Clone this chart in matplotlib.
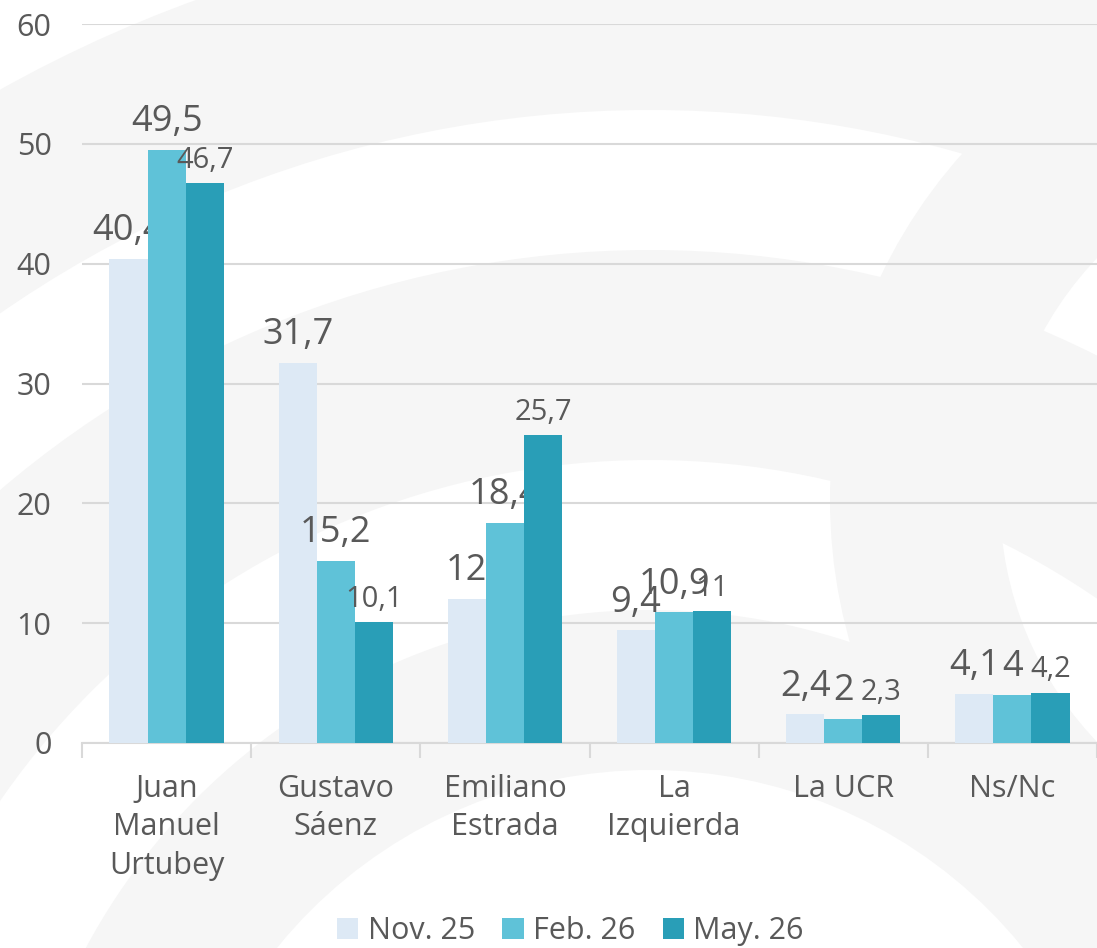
import matplotlib.pyplot as plt
from matplotlib.patches import Wedge

plt.rcParams['font.family'] = ['Open Sans', 'DejaVu Sans']

# datos
categorias = ["Juan\nManuel\nUrtubey", "Gustavo\nSáenz", "Emiliano\nEstrada",
              "La\nIzquierda", "La UCR", "Ns/Nc"]
series = ["Nov. 25", "Feb. 26", "May. 26"]
nov25 = [40.4, 31.7, 12, 9.4, 2.4, 4.1]
feb26 = [49.5, 15.2, 18.4, 10.9, 2, 4]
may26 = [46.7, 10.1, 25.7, 11, 2.3, 4.2]
yticks = [0, 10, 20, 30, 40, 50, 60]

colores = ["#DDE9F5", "#5FC2D8", "#299EB7"]
gris_txt = "#595959"
gris_lin = "#D9D9D9"

fig = plt.figure(figsize=(10.97, 9.48), dpi=100)

# marca de agua de fondo (arcos grises claros)
fondo = fig.add_axes([0, 0, 1, 1], zorder=-10)
fondo.set_xlim(0, 1097)
fondo.set_ylim(948, 0)
fondo.axis("off")
fondo.add_patch(Wedge((650, 1250), 1330, 180, 360, width=190, color="#F6F6F6", lw=0))
fondo.add_patch(Wedge((650, 1250), 1000, 180, 360, width=210, color="#F6F6F6", lw=0))
fondo.add_patch(Wedge((1350, 500), 520, 90, 270, width=170, color="#F6F6F6", lw=0))
fondo.add_patch(Wedge((650, 1250), 640, 180, 360, width=160, color="#F6F6F6", lw=0))

ax = fig.add_axes([82 / 1097, 205 / 948, 1 - 82 / 1097, 719 / 948])
ax.patch.set_alpha(0)

x = list(range(len(categorias)))
w = 0.225
datos = [nov25, feb26, may26]
for i, (nombre, vals) in enumerate(zip(series, datos)):
    pos = [xi + (i - 1) * w for xi in x]
    barras = ax.bar(pos, vals, width=w, color=colores[i], label=nombre, zorder=3)
    etiquetas = [f"{v:g}".replace(".", ",") for v in vals]
    ax.bar_label(barras, labels=etiquetas, padding=6 if i == 2 else 7, color=gris_txt,
                 fontsize=21 if i == 2 else 26)

ax.set_ylim(0, 60)
ax.set_xlim(-0.5, len(categorias) - 0.5)
ax.set_yticks(yticks)
ax.grid(axis="y", color=gris_lin, lw=1.5, zorder=0)
ax.tick_params(axis="y", length=0, labelsize=22, labelcolor=gris_txt, pad=22)

ax.set_xticks([xi - 0.5 for xi in x] + [len(x) - 0.5])
ax.set_xticklabels([])
ax.tick_params(axis="x", which="major", length=11, width=1.5, color=gris_lin)
ax.set_xticks(x, minor=True)
ax.set_xticklabels(categorias, minor=True, fontsize=22, color=gris_txt, linespacing=1.38)
ax.tick_params(axis="x", which="minor", length=0, pad=22)

for s in ["top", "right", "left"]:
    ax.spines[s].set_visible(False)
ax.spines["bottom"].set_color(gris_lin)
ax.spines["bottom"].set_linewidth(1.5)

fig.legend(loc="center", bbox_to_anchor=(0.52, 0.018), ncol=3, frameon=False,
           fontsize=22, labelcolor=gris_txt, handlelength=0.7, handleheight=0.7,
           handletextpad=0.3, columnspacing=0.9)

fig.savefig("out.png", dpi=100)
